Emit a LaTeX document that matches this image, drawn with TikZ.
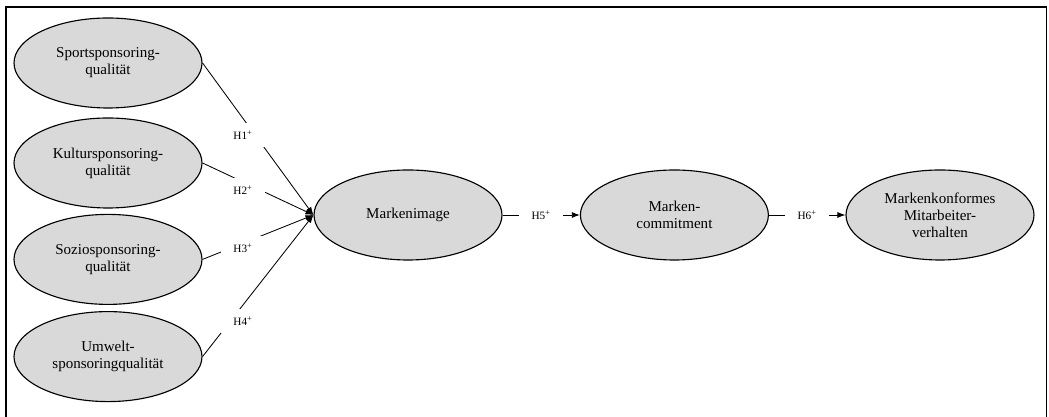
\documentclass[tikz,border=0pt]{standalone}
\usepackage{fontspec}
\setmainfont{Liberation Serif}
\usepackage{tikz}
\usetikzlibrary{positioning,shapes,arrows.meta}

\definecolor{ellgray}{RGB}{217,217,217}

\begin{document}
\begin{tikzpicture}[
    konstrukt/.style={ellipse, draw=black, line width=0.8pt, fill=ellgray, text=black,
      minimum width=4.7cm, minimum height=2.25cm, inner sep=0pt, align=center,
      font=\fontsize{10.7}{12.1}\selectfont},
    hyp/.style={rectangle, fill=white, text=black, minimum width=1.1cm, minimum height=0.6cm,
      inner sep=0pt, font=\fontsize{8}{9}\selectfont},
    link/.style={line width=0.6pt, -{Latex[length=2mm,width=1.5mm]}},
    rahmen/.style={line width=1.2pt}
  ]
    \useasboundingbox (0,0) rectangle (26.225,10.425);
    \draw[rahmen] (0.15,0) -- (0.15,10.25) -- (26.16,10.25) -- (26.16,0);

    \node[konstrukt] (sport) at (2.7,8.85)   {Sportsponsoring-\\qualität};
    \node[konstrukt] (kultur) at (2.7,6.35)  {Kultursponsoring-\\qualität};
    \node[konstrukt] (sozio) at (2.7,3.94)   {Soziosponsoring-\\qualität};
    \node[konstrukt] (umwelt) at (2.7,1.51)  {Umwelt-\\sponsoringqualität};
    \node[konstrukt] (image) at (10.2,5.05)  {Markenimage};
    \node[konstrukt] (commit) at (16.86,5.05) {Marken-\\commitment};
    \node[konstrukt] (verhalten) at (23.5,5.05) {Markenkonformes\\Mitarbeiter-\\verhalten};

    \draw[link] (sport.east) -- (image.west);
    \draw[link] (kultur.east) -- (image.west);
    \draw[link] (sozio.east) -- (image.west);
    \draw[link] (umwelt.east) -- (image.west);
    \draw[link] (image) -- node[hyp] (h5) {H5\textsuperscript{+}} (commit);
    \draw[link] (commit) -- node[hyp] (h6) {H6\textsuperscript{+}} (verhalten);

    \node[hyp] (h1) at (6.075,7.05)  {H1\textsuperscript{+}};
    \node[hyp] (h2) at (6.075,5.675) {H2\textsuperscript{+}};
    \node[hyp] (h3) at (6.075,4.225) {H3\textsuperscript{+}};
    \node[hyp] (h4) at (6.075,2.4)   {H4\textsuperscript{+}};
  \end{tikzpicture}
\end{document}
